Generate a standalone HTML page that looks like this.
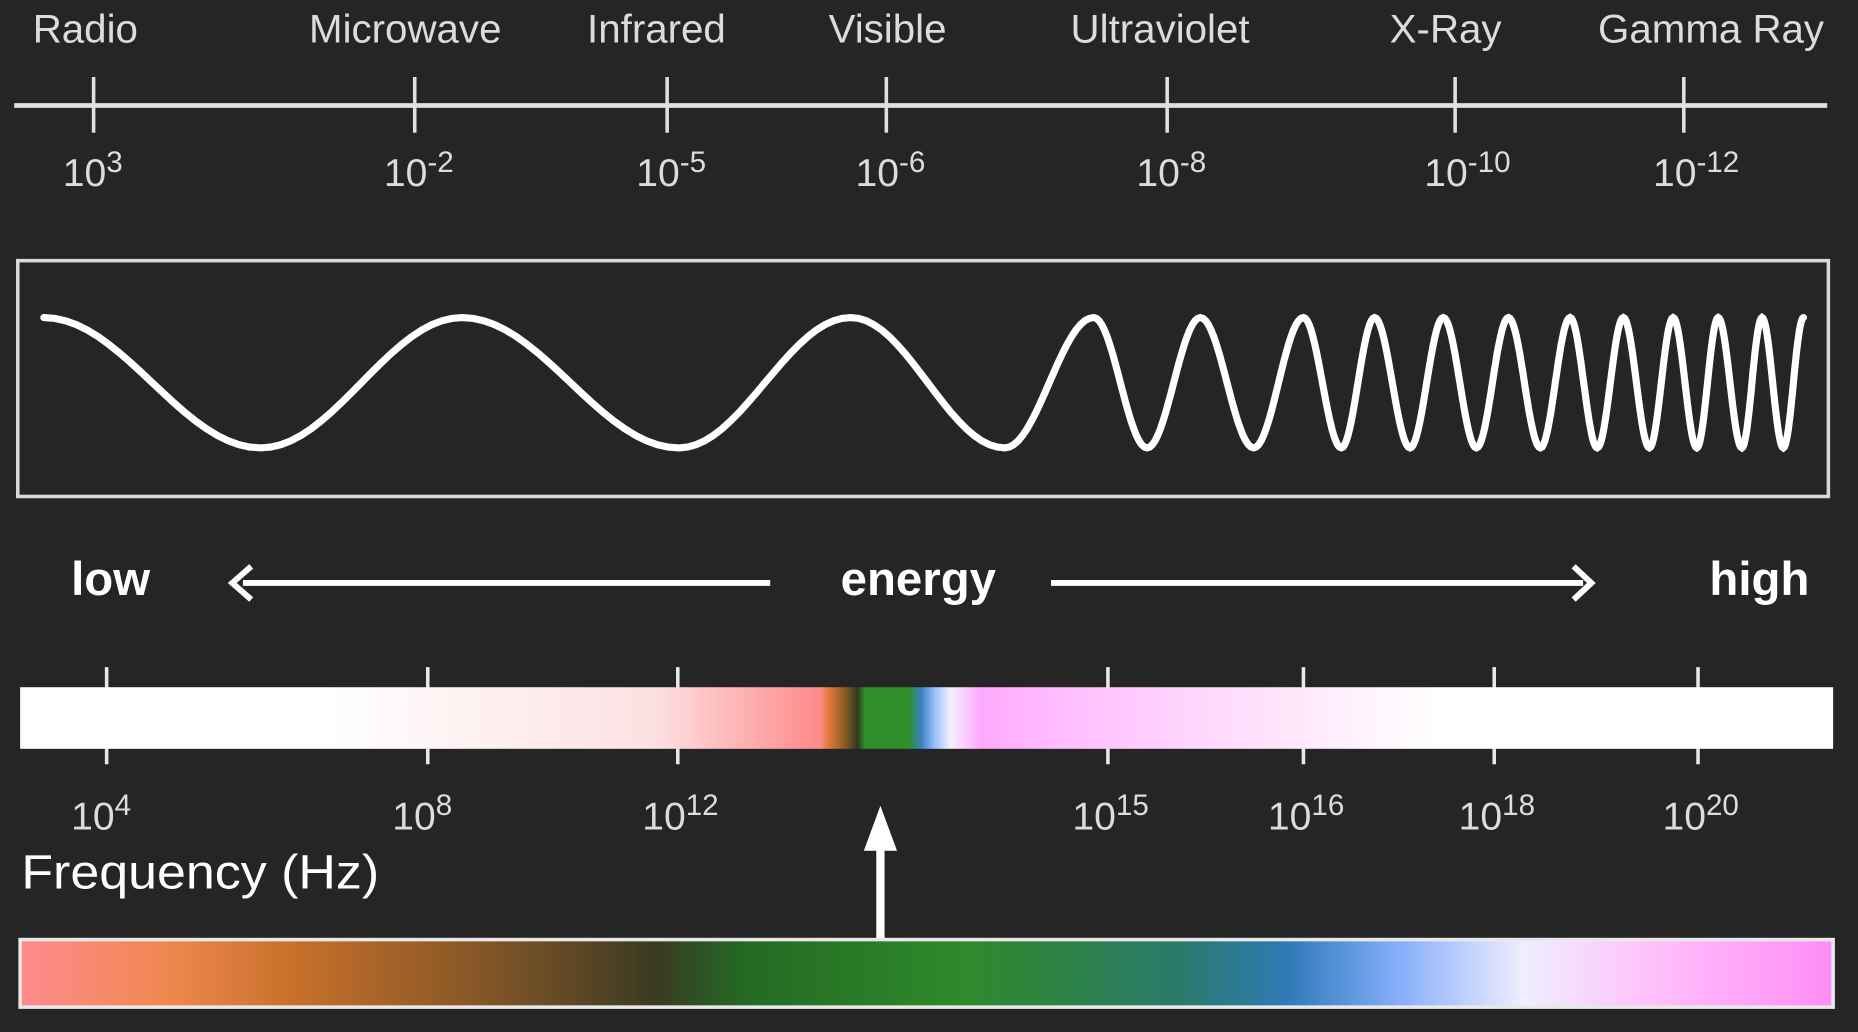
<!DOCTYPE html>
<html><head><meta charset="utf-8">
<style>
html,body{margin:0;padding:0;background:#252525;}
svg{display:block;}
text{font-family:"Liberation Sans",sans-serif;}
</style></head>
<body>
<svg id="chart" width="1858" height="1032" viewBox="0 0 1568 871" preserveAspectRatio="none" xmlns="http://www.w3.org/2000/svg">
<defs>
<linearGradient id="specGrad" x1="17" x2="1547" gradientUnits="userSpaceOnUse">
<stop offset="0" stop-color="#ffffff"/>
<stop offset="0.17" stop-color="#ffffff"/>
<stop offset="0.35" stop-color="#fde0e2"/>
<stop offset="0.441" stop-color="#ff8a8a"/>
<stop offset="0.446" stop-color="#e07a3a"/>
<stop offset="0.455" stop-color="#8a5a20"/>
<stop offset="0.462" stop-color="#2f3a22"/>
<stop offset="0.466" stop-color="#2f8f2a"/>
<stop offset="0.49" stop-color="#2f8f2a"/>
<stop offset="0.497" stop-color="#3a80c0"/>
<stop offset="0.505" stop-color="#9fc4ff"/>
<stop offset="0.513" stop-color="#f5eefe"/>
<stop offset="0.53" stop-color="#ffa8ff"/>
<stop offset="0.56" stop-color="#ffb8ff"/>
<stop offset="0.7" stop-color="#ffe6fb"/>
<stop offset="0.78" stop-color="#ffffff"/>
<stop offset="1" stop-color="#ffffff"/>
</linearGradient>
<linearGradient id="visGrad" x1="17" x2="1547" gradientUnits="userSpaceOnUse">
<stop offset="0" stop-color="#ff8a8f"/>
<stop offset="0.08" stop-color="#f08850"/>
<stop offset="0.15" stop-color="#c8702a"/>
<stop offset="0.27" stop-color="#7a5226"/>
<stop offset="0.35" stop-color="#3a3a22"/>
<stop offset="0.4" stop-color="#246a24"/>
<stop offset="0.52" stop-color="#2f8a2a"/>
<stop offset="0.64" stop-color="#2a7a6a"/>
<stop offset="0.7" stop-color="#2f7ab8"/>
<stop offset="0.76" stop-color="#86aefc"/>
<stop offset="0.83" stop-color="#f0eefe"/>
<stop offset="0.9" stop-color="#ffc0fb"/>
<stop offset="1" stop-color="#ff8cf5"/>
</linearGradient>
</defs>
<rect x="0" y="0" width="1568" height="871" fill="#252525"/>
<g id="topAxis"></g>
<rect x="15" y="220" width="1528" height="199" fill="none" stroke="#d8d8d8" stroke-width="3"/>
<path id="wave" fill="none" stroke="#ffffff" stroke-width="6" stroke-linecap="round"/>
<text x="60" y="502" font-size="40" font-weight="bold" fill="#fff">low</text>
<text x="775" y="502" font-size="40" font-weight="bold" fill="#fff" text-anchor="middle">energy</text>
<text x="1527" y="502" font-size="40" font-weight="bold" fill="#fff" text-anchor="end">high</text>
<g>
<line x1="205" y1="492" x2="650" y2="492" stroke="#fff" stroke-width="5"/>
<polyline points="212,478 196,492 212,506" fill="none" stroke="#fff" stroke-width="5"/>
</g>
<g>
<line x1="887" y1="492" x2="1336" y2="492" stroke="#fff" stroke-width="5"/>
<polyline points="1328,478 1343,492 1328,506" fill="none" stroke="#fff" stroke-width="5"/>
</g>
<g id="freqAxis"></g>
<rect x="17" y="580" width="1530" height="52" fill="url(#specGrad)"/>
<text x="18" y="750" font-size="41" fill="#fff" textLength="302" lengthAdjust="spacingAndGlyphs">Frequency (Hz)</text>
<g>
<line x1="743" y1="712" x2="743" y2="792" stroke="#fff" stroke-width="7"/>
<polygon points="743,680 729,718 757,718" fill="#fff"/>
</g>
<rect x="17" y="793" width="1530" height="57" fill="url(#visGrad)" stroke="#e8e8e8" stroke-width="3"/>
</svg>
<script>
const bandNames = ["Radio","Microwave","Infrared","Visible","Ultraviolet","X-Ray","Gamma Ray"];
const wavelengthExp = ["3","-2","-5","-6","-8","-10","-12"];
const wavelengthTickX = [79,350,563,748,985,1228,1421];
const bandLabelX = [72,342,554,749,979,1220,1444];
const freqExp = ["4","8","12","15","16","18","20"];
const freqTickX = [90,361,572,935,1100,1261,1433];
const waveExtremaX = [37,220,390,573,718,848,923,968,1013,1058,1100,1132,1160,1190,1218,1246,1273,1300,1325,1348,1370,1392,1412,1432,1450,1470,1487,1505,1522];
const NS="http://www.w3.org/2000/svg";
function mk(tag,attrs,parent){const e=document.createElementNS(NS,tag);for(const k in attrs)e.setAttribute(k,attrs[k]);parent.appendChild(e);return e;}
function supLabel(parent,x,y,base,exp){
 const l=mk('text',{x:x,y:y,'font-size':33,fill:'#dcdcdc'},parent);
 l.appendChild(document.createTextNode(base));
 const ts=mk('tspan',{dy:-12,'font-size':25},l);
 ts.textContent=exp;
 return l;
}
const topG=document.getElementById('topAxis');
const axl=mk('line',{x1:12,y1:89,x2:1542,y2:89,stroke:'#e0e0e0','stroke-width':4},topG);


bandNames.forEach(function(n,i){
 const t=mk('text',{x:bandLabelX[i],y:36,'font-size':34,fill:'#dcdcdc','text-anchor':'middle'},topG);
 t.textContent=n;
 
 
 const tk=mk('line',{x1:wavelengthTickX[i],y1:65,x2:wavelengthTickX[i],y2:112,stroke:'#e0e0e0','stroke-width':3},topG);
 
 
 const l=supLabel(topG,wavelengthTickX[i]-26,157,'10',wavelengthExp[i]);
 
 
});
const fa=document.getElementById('freqAxis');
freqExp.forEach(function(e,i){
 const tk=mk('line',{x1:freqTickX[i],y1:563,x2:freqTickX[i],y2:645,stroke:'#e8e8e8','stroke-width':3},fa);
 
 
 const l=supLabel(fa,freqTickX[i]-30,700,'10',e);
 
 
});
const yc=323, amp=55;
let d='';
for(let i=0;i<waveExtremaX.length-1;i++){
 const x0=waveExtremaX[i], x1=waveExtremaX[i+1];
 const s=(i%2===0)?-1:1;
 for(let k=0;k<=20;k++){
  const t=k/20;
  const x=x0+(x1-x0)*t;
  const y=yc+s*amp*Math.cos(Math.PI*t);
  d+=(d?'L':'M')+x.toFixed(1)+' '+y.toFixed(1);
 }
}
document.getElementById('wave').setAttribute('d',d);
</script>
</body></html>
